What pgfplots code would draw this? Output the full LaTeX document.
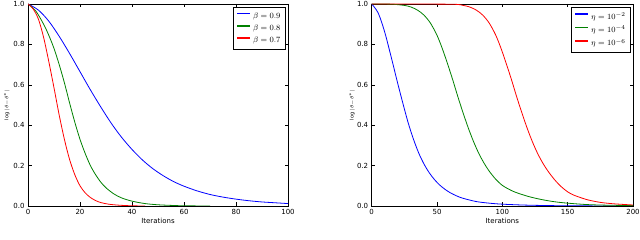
\documentclass[border=0pt]{standalone}
\usepackage{fontspec}
\setmainfont{DejaVu Sans}
\usepackage{pgfplots}
\pgfplotsset{compat=1.18}
\definecolor{mplblue}{rgb}{0,0,1}
\definecolor{mplgreen}{rgb}{0,0.5,0}
\definecolor{mplred}{rgb}{1,0,0}
\pgfplotsset{
  panel/.style={
    scale only axis,
    height=202pt,
    ymin=0, ymax=1,
    axis line style={black, line width=0.7pt},
    tick align=inside,
    major tick length=3.5pt,
    tick style={black, line width=0.5pt},
    ytick={0,0.2,0.4,0.6,0.8,1.0},
    yticklabel style={/pgf/number format/fixed, /pgf/number format/fixed zerofill, /pgf/number format/precision=1},
    /pgf/number format/assume math mode=true,
    ticklabel style={font=\fontsize{7}{8}\selectfont},
    label style={font=\fontsize{7}{8}\selectfont},
    xlabel={Iterations},
    xlabel style={at={(axis description cs:0.5,-0.074)}, anchor=center},
    ylabel={$\scriptstyle\log|\theta-\theta^{*}|$},
    legend style={draw=black, line width=0.9pt, font=\fontsize{8}{9}\selectfont,
      at={(0.992,0.985)}, anchor=north east, row sep=1.2pt, inner sep=3pt,
      legend cell align=left,
      /tikz/every even column/.append style={column sep=5pt}},
    legend image code/.code={\draw[#1, line width=1.5pt, line cap=butt] (0pt,2.5pt) -- (13pt,2.5pt);},
    every axis plot/.append style={line width=0.8pt, smooth, tension=0.5},
  }
}
\begin{document}
\begin{tikzpicture}
\path[use as bounding box] (0,0) rectangle (640pt,240pt);
\begin{axis}[panel, at={(28pt,34pt)}, anchor=south west, width=260pt,
  xmin=0, xmax=100, xtick={0,20,40,60,80,100},
  ylabel style={at={(axis description cs:-0.081,0.5)}, anchor=center}]
\addplot[color=mplblue] coordinates {(0,1) (4,0.97) (8,0.915) (12,0.84) (16,0.755) (20,0.665) (24,0.575) (28,0.49) (32,0.41) (36,0.34) (40,0.28) (44,0.228) (48,0.185) (52,0.15) (56,0.121) (60,0.098) (65,0.075) (70,0.057) (75,0.044) (80,0.034) (85,0.026) (90,0.02) (95,0.016) (100,0.012)};
\addlegendentry{$\beta=0.9$}
\addplot[color=mplgreen] coordinates {(0,1) (3,0.965) (6,0.9) (8,0.845) (10,0.78) (12,0.7) (14,0.61) (16,0.51) (18,0.415) (20,0.33) (22,0.26) (24,0.2) (26,0.155) (28,0.118) (30,0.09) (33,0.06) (36,0.04) (40,0.024) (45,0.012) (50,0.006) (55,0.003) (60,0.001) (70,0)};
\addlegendentry{$\beta=0.8$}
\addplot[color=mplred] coordinates {(0,1) (2,0.975) (4,0.925) (6,0.835) (8,0.715) (10,0.585) (12,0.45) (14,0.33) (16,0.23) (18,0.155) (20,0.1) (22,0.065) (24,0.042) (26,0.027) (28,0.017) (31,0.009) (35,0.004) (40,0.001) (45,0)};
\addlegendentry{$\beta=0.7$}
\end{axis}
\begin{axis}[panel, at={(371.7pt,34pt)}, anchor=south west, width=261.3pt,
  xmin=0, xmax=200, xtick={0,50,100,150,200},
  ylabel style={at={(axis description cs:-0.075,0.5)}, anchor=center}]
\addplot[color=mplblue] coordinates {(0,1) (5,0.955) (10,0.86) (15,0.735) (20,0.605) (24,0.505) (28,0.41) (32,0.33) (36,0.262) (40,0.208) (44,0.165) (48,0.131) (52,0.104) (56,0.083) (60,0.066) (65,0.05) (70,0.038) (80,0.022) (90,0.014) (100,0.009) (120,0.004) (150,0.001) (200,0)};
\addlegendentry{$\eta=10^{-2}$}
\addplot[color=mplgreen] coordinates {(0,1) (15,0.999) (25,0.993) (30,0.985) (35,0.97) (40,0.945) (45,0.905) (50,0.845) (54,0.78) (58,0.705) (62,0.625) (66,0.54) (70,0.46) (74,0.385) (78,0.318) (82,0.26) (86,0.212) (90,0.172) (95,0.132) (100,0.102) (105,0.083) (110,0.068) (120,0.047) (130,0.032) (140,0.021) (150,0.014) (165,0.007) (180,0.004) (200,0.002)};
\addlegendentry{$\eta=10^{-4}$}
\addplot[color=mplred] coordinates {(0,1) (60,0.999) (70,0.993) (75,0.985) (80,0.97) (85,0.945) (90,0.905) (95,0.845) (99,0.78) (103,0.705) (107,0.625) (111,0.54) (115,0.46) (119,0.385) (123,0.318) (127,0.26) (131,0.212) (135,0.172) (140,0.13) (145,0.096) (150,0.07) (155,0.053) (165,0.031) (175,0.018) (185,0.011) (200,0.005)};
\addlegendentry{$\eta=10^{-6}$}
\end{axis}
\end{tikzpicture}
\end{document}
